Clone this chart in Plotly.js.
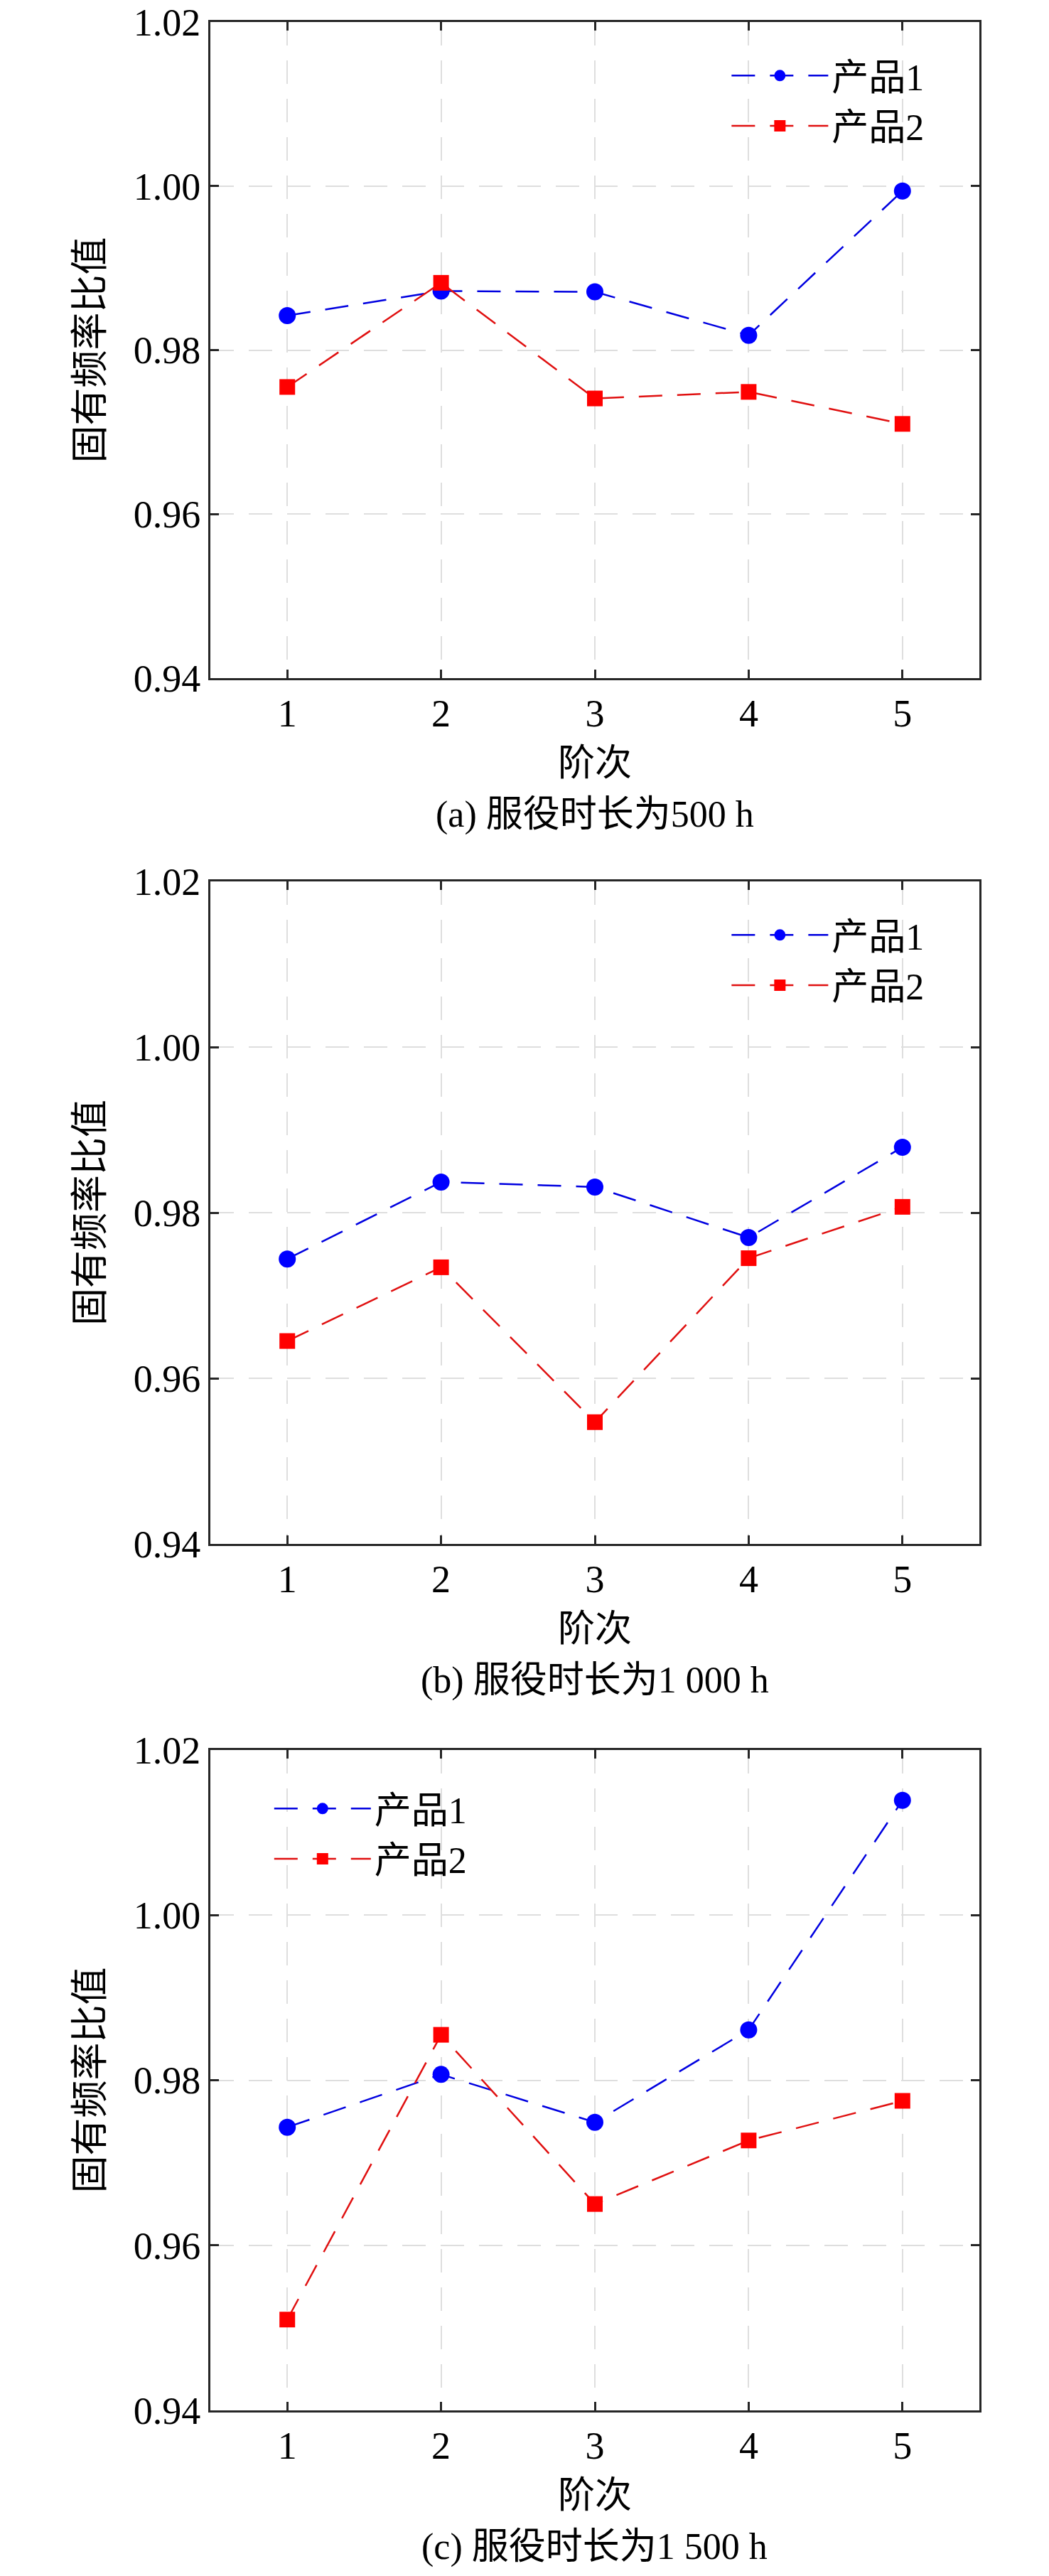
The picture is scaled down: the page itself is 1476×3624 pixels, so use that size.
<!DOCTYPE html>
<html>
<head>
<meta charset="utf-8">
<script src="https://cdn.plot.ly/plotly-3.0.1.min.js"></script>
<style>
  body { margin: 0; background: #fff; }
  #chart { width: 1476px; height: 3624px; }
</style>
</head>
<body>
<div id="chart"></div>
<script>
// order numbers on the x axis
const orders = [1, 2, 3, 4, 5];

// natural frequency ratio
const ratioA1 = [0.9842, 0.9872, 0.9871, 0.9818, 0.9994];
const ratioA2 = [0.9755, 0.9882, 0.9741, 0.9749, 0.9710];
const ratioB1 = [0.9744, 0.9837, 0.9831, 0.9770, 0.9879];
const ratioB2 = [0.9645, 0.9734, 0.9547, 0.9745, 0.9807];
const ratioC1 = [0.9743, 0.9807, 0.9749, 0.9861, 1.0139];
const ratioC2 = [0.9510, 0.9855, 0.9650, 0.9727, 0.9775];

const seriesNames = ['产品1', '产品2'];
const captions = ['(a) 服役时长为500 h', '(b) 服役时长为1 000 h', '(c) 服役时长为1 500 h'];

const FONT = '"Liberation Serif", "Times New Roman", "Noto Sans CJK SC", serif';
const H = 3624;
const DASH = '33px,21px';

// panel borders in page pixels (top, bottom)
const panels = [[31, 954], [1240, 2172], [2462, 3391]];
const py = (p) => 1 - p / H;

const makeTraces = (idx, y1, y2) => {
	const sfx = idx === 0 ? '' : String(idx + 1);
	const legend = 'legend' + sfx;
	return [{
		x: orders, y: y1, name: seriesNames[0], type: 'scatter', mode: 'lines+markers',
		xaxis: 'x' + sfx, yaxis: 'y' + sfx, legend: legend,
		line: { color: '#0000e0', width: 2.5, dash: DASH },
		marker: { color: '#0000ff', size: 24, symbol: 'circle' },
	}, {
		x: orders, y: y2, name: seriesNames[1], type: 'scatter', mode: 'lines+markers',
		xaxis: 'x' + sfx, yaxis: 'y' + sfx, legend: legend,
		line: { color: '#e01010', width: 2.5, dash: DASH },
		marker: { color: '#ff0000', size: 22, symbol: 'square' },
	}];
};

const data = [
	...makeTraces(0, ratioA1, ratioA2),
	...makeTraces(1, ratioB1, ratioB2),
	...makeTraces(2, ratioC1, ratioC2),
];

const axisCommon = {
	showline: true, linewidth: 3, linecolor: '#262626', mirror: 'ticks',
	ticks: 'inside', ticklen: 12, tickwidth: 3, tickcolor: '#262626',
	showgrid: true, gridcolor: '#dedede', gridwidth: 2, griddash: DASH,
	zeroline: false, tickfont: { family: FONT, size: 54, color: '#000' },
};

const layout = {
	width: 1476, height: H,
	margin: { l: 0, r: 0, t: 0, b: 0 },
	paper_bgcolor: '#fff', plot_bgcolor: '#fff',
	font: { family: FONT, size: 52, color: '#000' },
	showlegend: true,
	annotations: [],
};

const legendX = [0.694, 0.694, 0.258];
const legendTop = [66, 1275, 2504];

panels.forEach(([top, bottom], i) => {
	const sfx = i === 0 ? '' : String(i + 1);
	layout['xaxis' + sfx] = Object.assign({}, axisCommon, {
		domain: [296 / 1476, 1378 / 1476], anchor: 'y' + sfx,
		range: [0.5, 5.5], tickvals: orders,
		title: { text: '阶次', font: { family: FONT, size: 52 }, standoff: 22 },
	});
	layout['yaxis' + sfx] = Object.assign({}, axisCommon, {
		domain: [py(bottom), py(top)], anchor: 'x' + sfx,
		range: [0.94, 1.02], dtick: 0.02, tickformat: '.2f',
		title: { text: '固有频率比值', font: { family: FONT, size: 53 }, standoff: 26 },
	});
	layout['legend' + sfx] = {
		x: legendX[i], y: py(legendTop[i]), xanchor: 'left', yanchor: 'top',
		bgcolor: 'rgba(0,0,0,0)', itemwidth: 136,
		font: { family: FONT, size: 52, color: '#000' },
	};
	layout.annotations.push({
		text: captions[i], xref: 'paper', yref: 'paper',
		x: 837 / 1476, y: py(bottom + 192), xanchor: 'center', yanchor: 'middle',
		showarrow: false, font: { family: FONT, size: 52, color: '#000' },
	});
});

Plotly.newPlot('chart', data, layout, { staticPlot: true });
</script>
</body>
</html>
